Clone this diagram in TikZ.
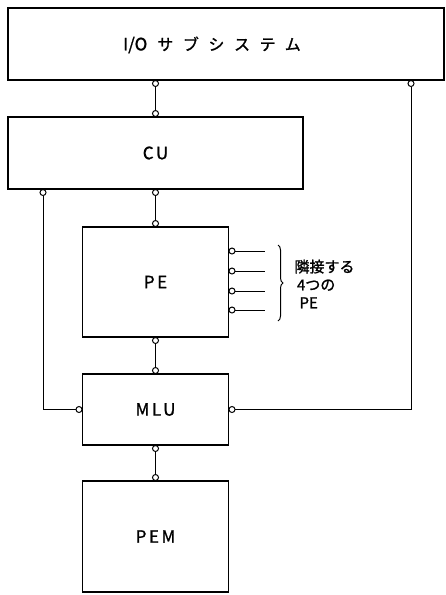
\documentclass[tikz,border=0pt]{standalone}
\usepackage{fontspec}
\setmainfont{Noto Sans CJK JP}[FakeBold=1.2]
\newfontfamily\wide{Noto Sans CJK JP}[LetterSpace=15, FakeBold=1.2]
\newfontfamily\kana{Noto Sans CJK JP}[LetterSpace=60, FakeBold=1.2]
\usetikzlibrary{arrows.meta, positioning, decorations.pathreplacing}

\begin{document}
\begin{tikzpicture}[x=1pt, y=-1pt,
        every node/.style={font=\wide\fontsize{17}{20}\selectfont},
        bloco/.style={draw, line width=1.8pt, inner sep=0pt, outer sep=0pt},
        liga/.style={line width=1pt, {Circle[open, length=7pt, width=7pt]}-{Circle[open, length=7pt, width=7pt]}},
        porta/.style={line width=1pt, {Circle[open, length=7pt, width=7pt]}-},
        nota/.style={align=left, font=\fontsize{15}{18}\selectfont}
    ]
        \useasboundingbox (0,0) rectangle (445,595);
        % blocos
        \node[bloco, minimum width=436pt, minimum height=72pt] (io) at (226,44) {};
        \node (iotxt) at (212,45) {{\rmfamily I/O}\hspace{10pt}{\kana\fontsize{16}{20}\selectfont サブシステム}};
        \node[bloco, minimum width=295pt, minimum height=72pt, below right=37pt and 0pt of io.south west] (cu) {CU};
        \node[bloco, minimum width=146pt, minimum height=110pt, below=38pt of cu] (pe) {PE};
        \node[bloco, minimum width=146pt, minimum height=71pt, below=37pt of pe] (mlu) {MLU};
        \node[bloco, minimum width=146pt, minimum height=111pt, below=36pt of mlu] (pem) {PEM};
        % ligacoes
        \coordinate (esq) at (43,409);
        \coordinate (dir) at (411,411);
        \draw[liga] (cu.north) -- (cu.north |- io.south);
        \draw[liga] (cu.south) -- (pe.north);
        \draw[liga] (pe.south) -- (mlu.north);
        \draw[liga] (mlu.south) -- (pem.north);
        \draw[liga] (esq |- cu.south) |- (mlu.west);
        \draw[liga] (mlu.east) -| (dir |- io.south);
        % PE vizinhos
        \foreach \y in {251, 271, 291, 310}
            \draw[porta] (pe.east |- 0,\y) -- (265,\y);
        \draw[line width=1pt, decorate, decoration={brace, amplitude=5pt}] (278,245) -- (278,321);
        \node[nota, anchor=west] (viz) at (291,284) {隣接する\\\,4つの\\\,\,PE};
    \end{tikzpicture}
\end{document}
